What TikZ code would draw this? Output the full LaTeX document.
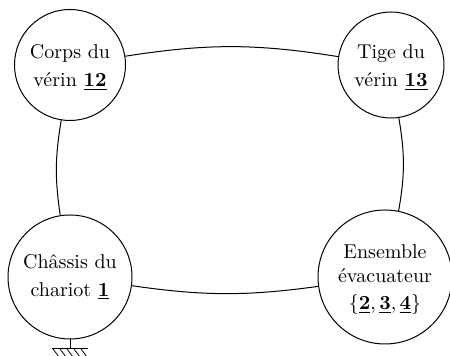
\documentclass[tikz,border=0pt]{standalone}
\usetikzlibrary{calc}
\newcommand{\topstrut}{\rule{0pt}{9.8pt}}
\begin{document}
\begin{tikzpicture}[x=0.5pt,y=-0.5pt,
  part/.style={draw,circle,inner sep=0pt,align=center,line width=0.5pt},
  link/.style={line width=0.5pt}]
\useasboundingbox (0,0) rectangle (450,356);
% parts of the mechanism
\node[part,minimum size=55.5pt] (corps) at (70,65) {\topstrut Corps du\\[2pt] vérin $\underline{\mathbf{12}}$};
\node[part,minimum size=53pt] (tige) at (391,65) {\topstrut Tige du\\[2pt] vérin $\underline{\mathbf{13}}$};
\node[part,minimum size=62pt] (chassis) at (70,277) {Châssis du\\[2pt] chariot $\underline{\mathbf{1}}$};
\node[part,minimum size=67pt] (evac) at (385,277) {\topstrut Ensemble\\ évacuateur\\[1.5pt] $\{\underline{\mathbf{2}},\underline{\mathbf{3}},\underline{\mathbf{4}}\}$};
% links between parts
\draw[link] (corps) to[bend left=9] (tige);
\draw[link] (tige) to[bend left=10] (evac);
\draw[link] (evac) to[bend left=8] (chassis);
\draw[link] (chassis) to[bend left=9] (corps);
% ground symbol under the frame
\coordinate (gnd) at (70,349);
\draw[link] (chassis.south) -- (gnd);
\draw[link] (52,349) -- (88,349);
\foreach \i in {53,60,67,74,81}
  \draw[line width=0.4pt] (\i,349) -- ++(6,8);
\end{tikzpicture}
\end{document}
